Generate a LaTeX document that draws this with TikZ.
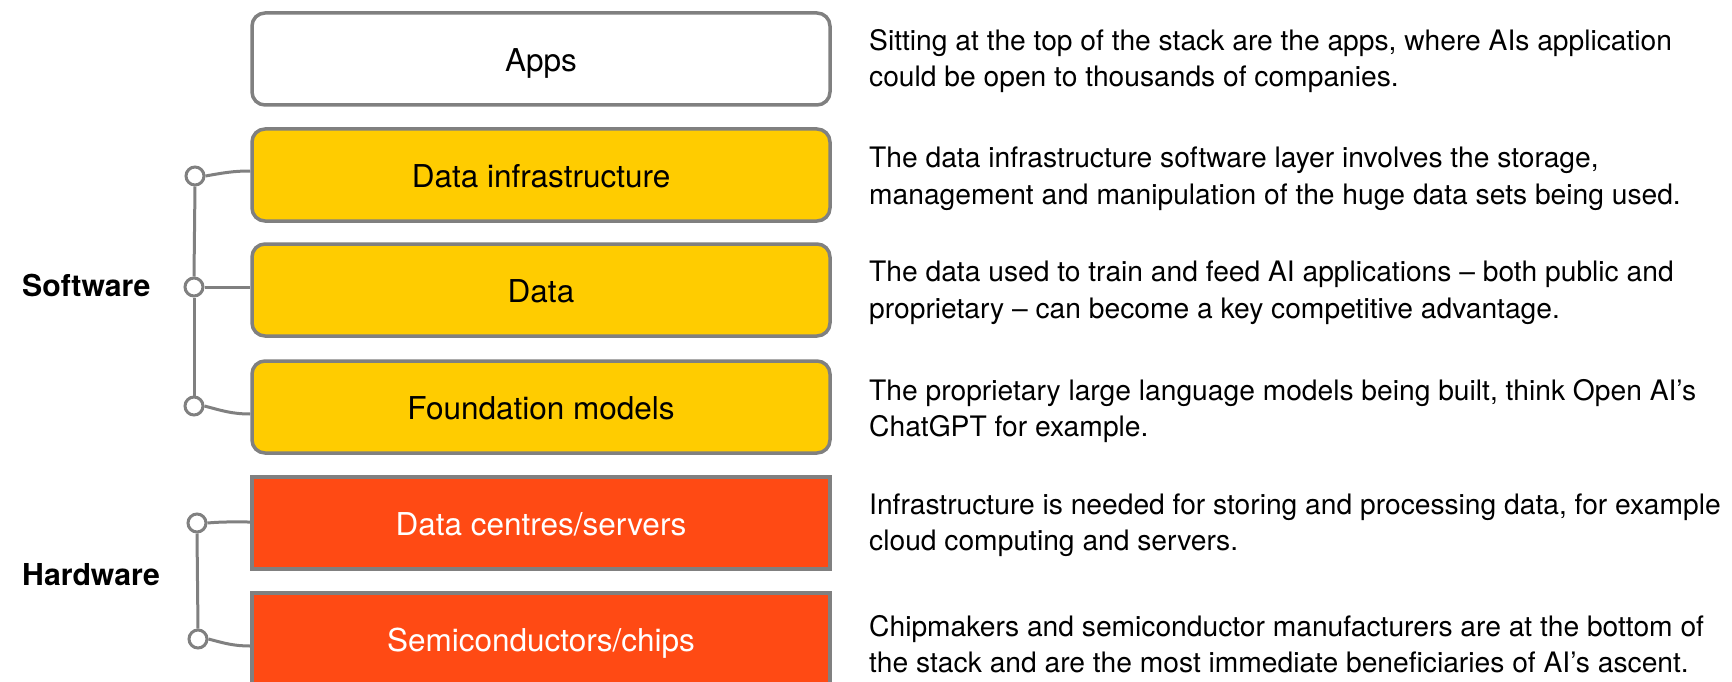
\documentclass[tikz,border=0pt]{standalone}
\usepackage{fontspec}
\setmainfont{TeX Gyre Heros}
\definecolor{bordergray}{RGB}{128,128,128}
\definecolor{swyellow}{RGB}{255,204,0}
\definecolor{hwred}{RGB}{255,74,20}
\begin{document}
\begin{tikzpicture}[x=1pt,y=-1pt,
  layer/.style={draw=bordergray,line width=3.5pt,minimum width=578pt,minimum height=92pt,
    inner sep=0pt,text height=25pt,text depth=0pt,font=\fontsize{31.5}{36}\selectfont},
  roundlayer/.style={layer,rounded corners=13pt},
  desc/.style={anchor=west,align=left,inner sep=0pt,font=\fontsize{28.2}{36.5}\selectfont},
  grouplabel/.style={anchor=west,inner sep=0pt,text height=22pt,text depth=0pt,font=\fontsize{30.2}{34}\selectfont\bfseries},
  knob/.style={circle,draw=bordergray,fill=white,line width=3pt,minimum size=18pt,inner sep=0pt},
  link/.style={draw=bordergray,line width=3pt}]
\useasboundingbox (0,0) rectangle (1732,682);
% layers
\node[roundlayer,fill=white] (apps) at (541,59) {Apps};
\node[roundlayer,fill=swyellow] (dinf) at (541,175) {Data infrastructure};
\node[roundlayer,fill=swyellow] (data) at (541,290) {Data};
\node[roundlayer,fill=swyellow] (fm) at (541,407) {Foundation models};
\node[layer,fill=hwred,text=white] (dc) at (541,523) {Data centres/servers};
\node[layer,fill=hwred,text=white] (semi) at (541,639) {Semiconductors/chips};
% descriptions
\node[desc] (tapps) at (869,61) {Sitting at the top of the stack are the apps, where AIs application\\could be open to thousands of companies.};
\node[desc] (tdinf) at (869,179) {The data infrastructure software layer involves the storage,\\management and manipulation of the huge data sets being used.};
\node[desc] (tdata) at (869,293) {The data used to train and feed AI applications – both public and\\proprietary – can become a key competitive advantage.};
\node[desc] (tfm) at (869,411) {The proprietary large language models being built, think Open AI’s\\ChatGPT for example.};
\node[desc] (tdc) at (869,525) {Infrastructure is needed for storing and processing data, for example\\cloud computing and servers.};
\node[desc] (tsemi) at (869,644) {Chipmakers and semiconductor manufacturers are at the bottom of\\the stack and are the most immediate beneficiaries of AI’s ascent.};
% group labels
\node[grouplabel] (sw) at (22,285) {Software};
\node[grouplabel] (hw) at (22,574) {Hardware};
% knobs
\node[knob] (c1) at (195,176) {};
\node[knob] (c2) at (194,287) {};
\node[knob] (c3) at (194,406) {};
\node[knob] (c4) at (197,523) {};
\node[knob] (c5) at (198,639) {};
% bracket lines
\path[link] (c1.south) -- (c2.north);
\path[link] (c2.south) -- (c3.north);
\path[link] (c4.south) -- (c5.north);
\path[link] (c1.east) to[out=10,in=180] ([yshift=4pt]dinf.west);
\path[link] (c2.east) -- (c2.east -| data.west);
\path[link] (c3.east) to[out=-15,in=180] ([yshift=-7pt]fm.west);
\path[link] (c4.east) to[out=5,in=180] ([yshift=1pt]dc.west);
\path[link] (c5.east) to[out=-15,in=180] ([yshift=-7pt]semi.west);
\end{tikzpicture}
\end{document}
